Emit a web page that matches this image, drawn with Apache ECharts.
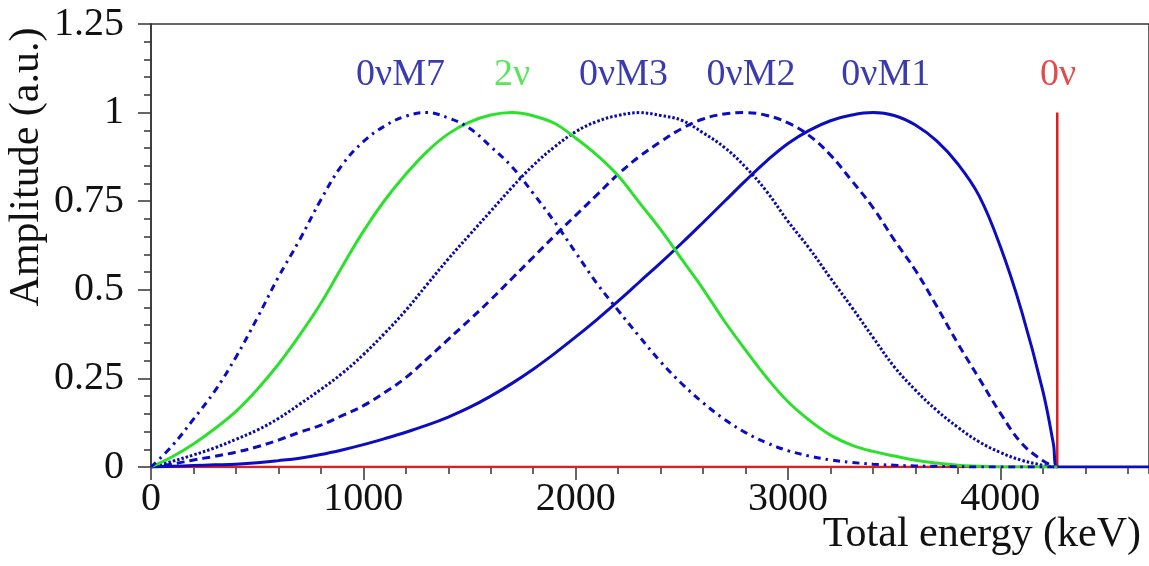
<!DOCTYPE html>
<html>
<head>
<meta charset="utf-8">
<script src="https://cdn.jsdelivr.net/npm/echarts@6/dist/echarts.min.js"></script>
<style>html,body{margin:0;padding:0;background:#fff}#c{width:1149px;height:566px}</style>
</head>
<body>
<div id="c"></div>
<script>
// ---------- DATA ----------
const energies = [0,100,200,300,400,500,600,700,800,900,1000,1100,1200,1300,1400,1500,1600,1700,1800,1900,2000,2100,2200,2300,2400,2500,2600,2700,2800,2900,3000,3100,3200,3300,3400,3500,3600,3700,3800,3900,4000,4100,4200,4250,4268,4700];
const m7    = [0,0.06,0.135,0.214,0.31,0.42,0.536,0.641,0.754,0.852,0.918,0.962,0.99,1.0,0.985,0.956,0.904,0.847,0.772,0.692,0.605,0.518,0.442,0.368,0.297,0.235,0.181,0.135,0.097,0.068,0.046,0.031,0.02,0.013,0.008,0.005,0.003,0.002,0.001,0,0,0,0,0,0,null];
const twoNu = [0,0.029,0.065,0.108,0.157,0.219,0.29,0.372,0.462,0.565,0.665,0.752,0.826,0.89,0.94,0.973,0.993,1.0,0.991,0.97,0.928,0.88,0.822,0.746,0.67,0.586,0.502,0.412,0.33,0.252,0.184,0.132,0.09,0.062,0.044,0.031,0.019,0.011,0.005,0.002,0,0,0,0,0,null];
const m3    = [0,0.016,0.034,0.054,0.078,0.104,0.137,0.177,0.219,0.264,0.317,0.377,0.442,0.515,0.587,0.655,0.722,0.789,0.851,0.903,0.946,0.975,0.992,1.0,0.992,0.978,0.943,0.902,0.846,0.777,0.693,0.617,0.533,0.451,0.366,0.283,0.217,0.16,0.112,0.071,0.041,0.019,0.005,0.001,0,null];
const m2    = [0,0.008,0.02,0.03,0.042,0.057,0.076,0.098,0.118,0.145,0.173,0.21,0.252,0.305,0.36,0.415,0.472,0.532,0.592,0.652,0.71,0.768,0.826,0.876,0.918,0.955,0.982,0.996,1.0,0.992,0.971,0.935,0.88,0.808,0.732,0.641,0.555,0.454,0.348,0.25,0.152,0.067,0.018,0.003,0,null];
const m1    = [0,0.002,0.004,0.006,0.008,0.012,0.018,0.025,0.035,0.048,0.063,0.08,0.098,0.118,0.141,0.168,0.2,0.236,0.276,0.32,0.367,0.416,0.468,0.522,0.576,0.632,0.69,0.749,0.808,0.864,0.913,0.95,0.977,0.993,1.0,0.992,0.965,0.92,0.855,0.765,0.622,0.44,0.215,0.065,0,0];
const zeroNuE = [0,4268,4268];
const zeroNuV = [0,0,1];
const labelNames = ['0νM7','2ν','0νM3','0νM2','0νM1','0ν'];
const xTickLabels = ['0','1000','2000','3000','4000'];
const yTickLabels = ['0','0.25','0.5','0.75','1','1.25'];
const xTitle = 'Total energy (keV)';
const yTitle = 'Amplitude (a.u.)';

// ---------- STYLE / LAYOUT ----------
const BLUE = '#0c0cc0', TEXTBLUE = '#0a0a9c', GREEN = '#2ee02e', RED = '#e01e1e';
const FONT = 'Liberation Serif';
const labelE = [1175,1700,2225,2826,3460,4272];
const labelY = 1.106;
const labelColors = [TEXTBLUE, GREEN, TEXTBLUE, TEXTBLUE, TEXTBLUE, RED];

function pairs(xs, ys){ return xs.map((x,i)=>[x, ys[i]]); }

const chart = echarts.init(document.getElementById('c'), null, {renderer:'canvas'});
const lw = 3, SM = 0.4;
const axisCommon = {min:0, max:4700, type:'value', splitLine:{show:false}};
chart.setOption({
  animation:false,
  backgroundColor:'#fff',
  grid:{left:151, right:-2, top:24, bottom:99, show:true, borderColor:'#333', borderWidth:1.5, backgroundColor:'transparent'},
  xAxis:[
    Object.assign({}, axisCommon, {position:'bottom', interval:1000,
      axisLine:{show:true, onZero:false, lineStyle:{color:'#333', width:1.5}},
      axisTick:{show:true, length:13, lineStyle:{color:'#333', width:1.5}},
      axisLabel:{show:true, showMaxLabel:false, margin:12, fontFamily:FONT, fontSize:40, color:'#111',
        formatter:(v)=>{const i=[0,1000,2000,3000,4000].indexOf(v); return i>=0?xTickLabels[i]:'';}}}),
    Object.assign({}, axisCommon, {position:'bottom', interval:200,
      axisLine:{show:false}, axisLabel:{show:false},
      axisTick:{show:true, length:7, lineStyle:{color:'#333', width:1.5}}})
  ],
  yAxis:{type:'value', min:0, max:1.25, interval:0.25,
    axisLine:{show:true, lineStyle:{color:'#333', width:1.5}},
    axisTick:{show:true, length:13, lineStyle:{color:'#333', width:1.5}},
    minorTick:{show:true, splitNumber:5, length:7, lineStyle:{color:'#333', width:1.5}},
    splitLine:{show:false},
    axisLabel:{margin:27, fontFamily:FONT, fontSize:40, color:'#111',
      formatter:(v)=>{const i=Math.round(v/0.25); return yTickLabels[i];}}},
  graphic:[
    {type:'text', x:27, y:167, rotation:Math.PI/2,
      style:{text:yTitle, fontFamily:FONT, fontSize:42, fill:'#111', align:'center', verticalAlign:'middle'}},
    {type:'text', x:1141, y:535,
      style:{text:xTitle, fontFamily:FONT, fontSize:42, fill:'#111', align:'right', verticalAlign:'middle'}}
  ],
  series:[
    {name:'0ν', type:'line', data:pairs(zeroNuE, zeroNuV), symbol:'none', lineStyle:{color:RED, width:2.5}, z:1},
    {name:'0νM1', type:'line', data:pairs(energies, m1), smooth:SM, symbol:'none', lineStyle:{color:BLUE, width:lw}, z:2},
    {name:'0νM2', type:'line', data:pairs(energies, m2), smooth:SM, symbol:'none', lineStyle:{color:BLUE, width:lw, type:[8,5]}, z:3},
    {name:'0νM3', type:'line', data:pairs(energies, m3), smooth:SM, symbol:'none', lineStyle:{color:'#0a0aa8', width:3, type:[2.5,2]}, z:4},
    {name:'2ν', type:'line', data:pairs(energies, twoNu), smooth:SM, symbol:'none', lineStyle:{color:GREEN, width:lw}, z:5},
    {name:'0νM7', type:'line', data:pairs(energies, m7), smooth:SM, symbol:'none', lineStyle:{color:BLUE, width:lw, type:[7,5,2.5,5]}, z:6},
    {name:'labels', type:'scatter', symbolSize:0, z:10, silent:true,
      data:labelNames.map((n,i)=>({name:n, value:[labelE[i], labelY],
        label:{show:true, position:'inside', formatter:n, color:labelColors[i], fontFamily:FONT, fontSize:38}}))}
  ]
});
</script>
</body>
</html>
